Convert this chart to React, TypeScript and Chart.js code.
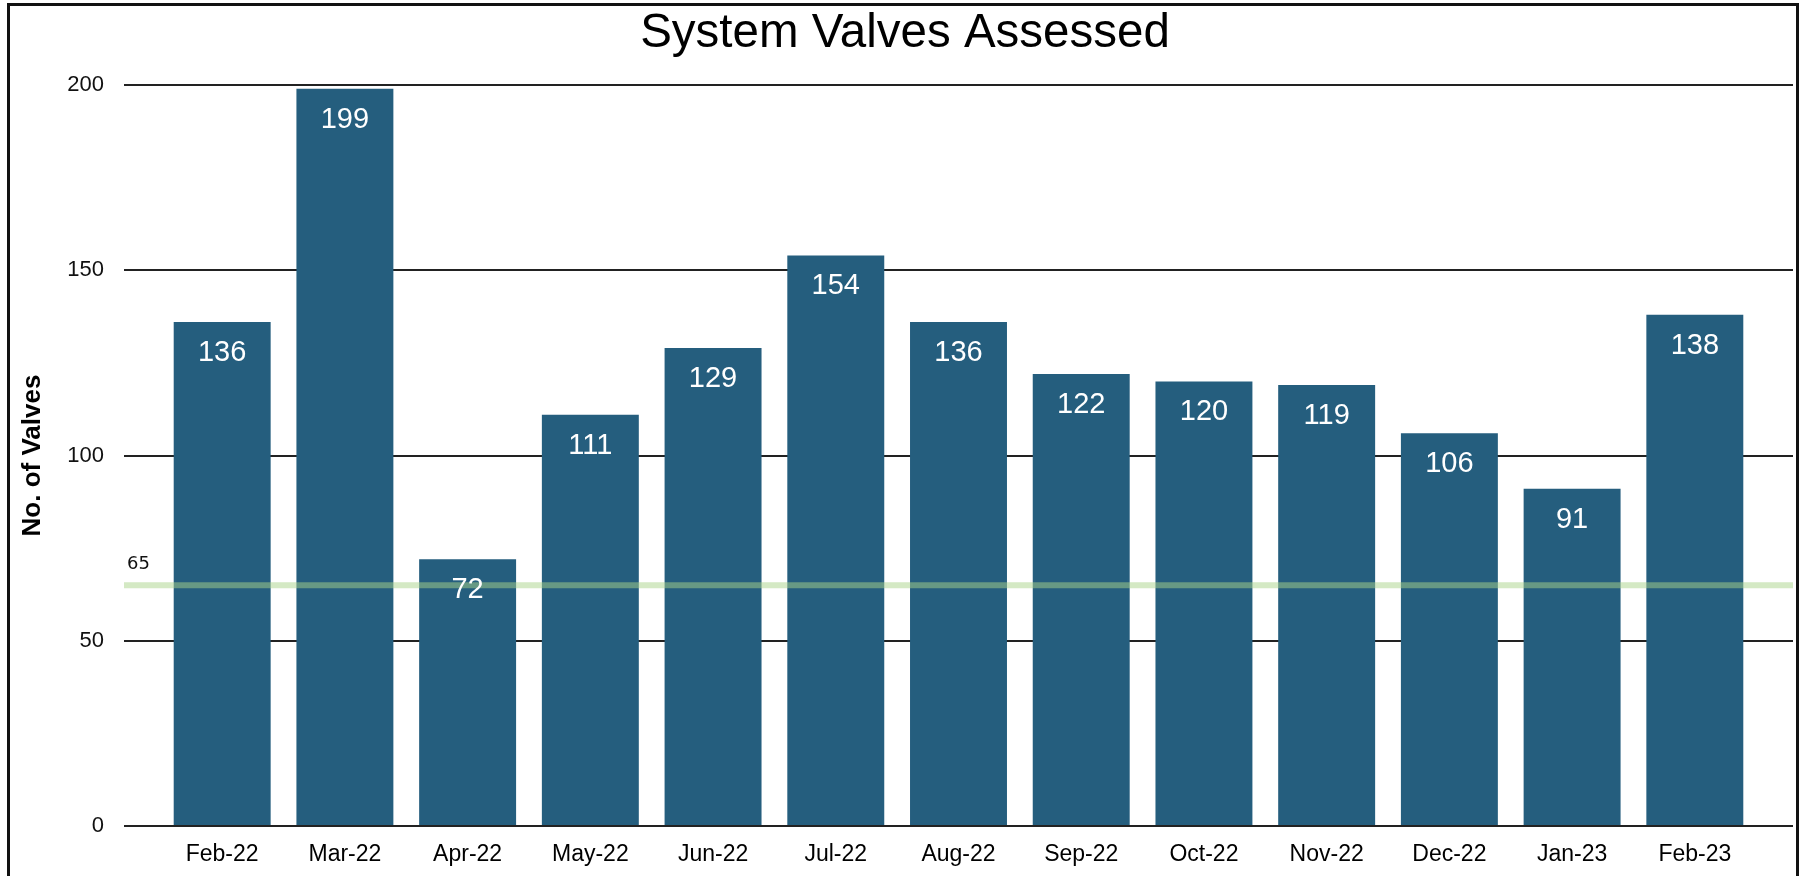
import React, { useEffect, useRef } from 'react';
import { Chart, registerables } from 'chart.js';

Chart.register(...registerables);

const months = ['Feb-22', 'Mar-22', 'Apr-22', 'May-22', 'Jun-22', 'Jul-22', 'Aug-22', 'Sep-22', 'Oct-22', 'Nov-22', 'Dec-22', 'Jan-23', 'Feb-23'];
const valves = [136, 199, 72, 111, 129, 154, 136, 122, 120, 119, 106, 91, 138];
const threshold = 65;
const yMin = 0;
const yMax = 200;
const yStep = 50;
const chartTitle = 'System Valves Assessed';

const FONT = "'Liberation Sans', Arial, Helvetica, sans-serif";

export default function App() {
  const ref = useRef<HTMLCanvasElement>(null);

  useEffect(() => {
    if (!ref.current) return;
    const overlay = {
      id: 'overlay',
      afterDatasetsDraw(chart: any) {
        const { ctx, chartArea, scales } = chart;
        const y = scales.y.getPixelForValue(threshold);
        ctx.save();
        ctx.strokeStyle = 'rgba(169,211,137,0.5)';
        ctx.lineWidth = 6;
        ctx.beginPath();
        ctx.moveTo(chartArea.left, y);
        ctx.lineTo(chartArea.right, y);
        ctx.stroke();
        ctx.fillStyle = '#111';
        ctx.font = "18px 'DejaVu Sans'";
        ctx.textAlign = 'left';
        ctx.textBaseline = 'middle';
        ctx.fillText(String(threshold), chartArea.left + 3, y - 21);
        const meta = chart.getDatasetMeta(0);
        ctx.fillStyle = '#ffffff';
        ctx.font = `29px ${FONT}`;
        ctx.textAlign = 'center';
        meta.data.forEach((bar: any, i: number) => {
          ctx.fillText(String(valves[i]), bar.x, bar.y + 31);
        });
        ctx.fillStyle = '#000';
        ctx.font = `47.5px ${FONT}`;
        ctx.textAlign = 'center';
        ctx.textBaseline = 'alphabetic';
        ctx.fillText(chartTitle, 905, 47);
        ctx.restore();
      },
    };

    const chart = new Chart(ref.current, {
      type: 'bar',
      data: {
        datasets: [
          {
            label: 'Valves Assessed',
            data: months.map((_, i) => ({ x: i, y: valves[i] })),
            backgroundColor: '#255e7e',
            borderWidth: 0,
            categoryPercentage: 1,
            barPercentage: 0.79,
          },
        ],
      },
      options: {
        responsive: false,
        animation: false,
        layout: { padding: { left: 8, right: 11, top: 85, bottom: 0 } },
        plugins: {
          legend: { display: false },
          tooltip: { enabled: false },
          title: { display: false },
        },
        scales: {
          x: {
            type: 'linear',
            min: -0.8,
            max: 12.8,
            offset: false,
            grid: { display: false, offset: false },
            border: { display: false },
            afterBuildTicks: (axis: any) => {
              axis.ticks = months.map((_, i) => ({ value: i }));
            },
            afterFit: (axis: any) => {
              axis.height = 50;
            },
            ticks: {
              autoSkip: false,
              maxRotation: 0,
              padding: 7,
              color: '#000',
              font: { size: 23, family: FONT },
              callback: (v: any) => months[v] ?? '',
            },
          },
          y: {
            min: yMin,
            max: yMax,
            border: { display: false },
            grid: { color: '#222', lineWidth: 2, drawTicks: false },
            afterFit: (axis: any) => {
              axis.width = 116;
            },
            ticks: {
              stepSize: yStep,
              padding: 20,
              color: '#111',
              font: { size: 22, family: FONT },
            },
            title: {
              display: true,
              text: 'No. of Valves',
              color: '#000',
              font: { size: 26, weight: 'bold', family: FONT },
              padding: { top: 9, bottom: 0 },
            },
          },
        },
      },
      plugins: [overlay],
    });
    return () => chart.destroy();
  }, []);

  return (
    <div style={{ position: 'fixed', left: 0, top: 0, width: 1804, height: 876, background: '#fff', overflow: 'hidden' }}>
      <canvas ref={ref} width={1804} height={876} style={{ display: 'block' }} />
      <div
        style={{
          position: 'absolute',
          left: 7,
          top: 3,
          width: 1786,
          height: 900,
          border: '3px solid #111',
          borderBottom: 'none',
          pointerEvents: 'none',
        }}
      />
    </div>
  );
}
